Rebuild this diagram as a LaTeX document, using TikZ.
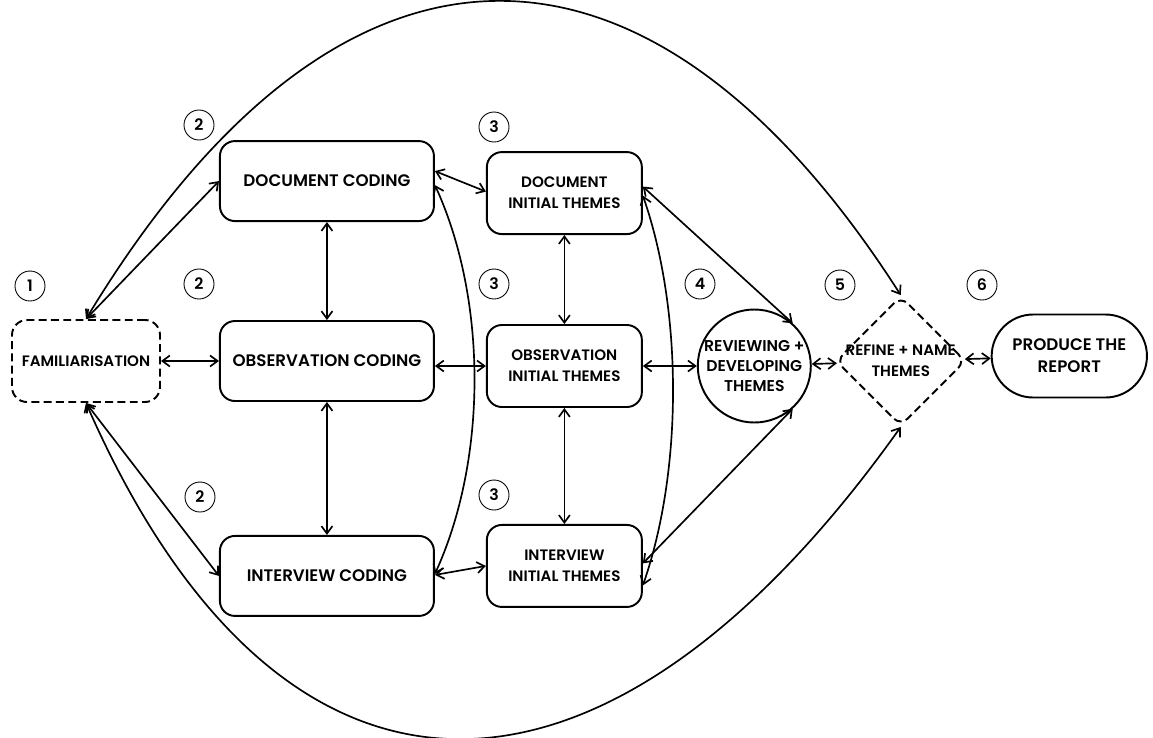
\documentclass[tikz,border=0pt]{standalone}
\usepackage{fontspec}
\setmainfont{Poppins}[BoldFont={Poppins SemiBold}]
\usepackage{tikz}
\usetikzlibrary{shapes,positioning,calc}
\usetikzlibrary{shapes.geometric}
\usetikzlibrary{arrows.meta}
\tikzstyle{link} = [line width=0.95pt,{Straight Barb[length=1.5mm,width=2.2mm]}-{Straight Barb[length=1.5mm,width=2.2mm]}]

\begin{document}
\begin{tikzpicture}[every node/.style={font=\fontsize{8.6}{12}\selectfont\bfseries, align=center},
	stage/.style={rectangle, draw, line width=1.1pt, rounded corners=3mm, minimum width=#1, minimum height=1.6cm},
	theme/.style={rectangle, draw, line width=1.1pt, rounded corners=3mm, minimum width=3.1cm, minimum height=1.64cm},
	num/.style={circle, draw, line width=0.5pt, minimum size=0.6cm, inner sep=0pt, font=\fontsize{9}{9}\selectfont\bfseries}]
	
	\useasboundingbox (0,0) rectangle (23.06,-14.74);
	
	% STAGES
	
	\node [stage=2.96cm, dashed, dash pattern=on 4.5pt off 2.5pt, minimum height=1.64cm] (fam) at (1.72,-7.22) {FAMILIARISATION};
	
	\node [stage=4.28cm, right=1.16cm of fam, font=\fontsize{9.5}{12}\selectfont\bfseries] (obscod) {OBSERVATION CODING};
	\node [stage=4.28cm, above=1.96cm of obscod, font=\fontsize{9.5}{12}\selectfont\bfseries] (doccod) {DOCUMENT CODING};
	\node [stage=4.28cm, below=2.66cm of obscod, font=\fontsize{9.5}{12}\selectfont\bfseries] (intcod) {INTERVIEW CODING};
	
	\node [theme, right=1.02cm of obscod, yshift=-0.1cm] (obsthm) {OBSERVATION\\ INITIAL THEMES};
	\node [theme, above=1.78cm of obsthm] (docthm) {DOCUMENT\\ INITIAL THEMES};
	\node [theme, below=2.32cm of obsthm] (intthm) {INTERVIEW\\ INITIAL THEMES};
	
	\node [circle, draw, line width=1.1pt, minimum size=2.26cm, inner sep=0pt, right=1.08cm of obsthm, font=\fontsize{8.9}{11.5}\selectfont\bfseries] (review) {REVIEWING +\\ DEVELOPING\\ THEMES};
	
	\node [diamond, draw, dashed, dash pattern=on 4.5pt off 2.5pt, line width=1.1pt, rounded corners=2mm, minimum width=2.6cm, minimum height=2.6cm, inner sep=0pt, right=0.46cm of review, yshift=0.1cm, label={[align=center]center:REFINE + NAME\\ THEMES}] (refine) {};
	
	\node [rounded rectangle, draw, line width=1.1pt, minimum width=3.34cm, minimum height=1.66cm, right=0.48cm of refine, yshift=0.1cm, font=\fontsize{9.5}{12.5}\selectfont\bfseries] (report) {PRODUCE THE\\ REPORT};
	
	% STEP NUMBERS
	
	\node [num] (n1) at (0.6,-5.72) {1};
	\node [num] (n2a) at (3.98,-2.5) {2};
	\node [num] (n2b) at (3.98,-5.68) {2};
	\node [num] (n2c) at (4.0,-9.94) {2};
	\node [num] (n3a) at (9.88,-2.54) {3};
	\node [num] (n3b) at (9.88,-5.68) {3};
	\node [num] (n3c) at (9.88,-9.9) {3};
	\node [num] (n4) at (14.0,-5.68) {4};
	\node [num] (n5) at (16.8,-5.7) {5};
	\node [num] (n6) at (19.64,-5.7) {6};
	
	% LINKS
	
	\draw [link] (fam) -- (obscod);
	\draw [link] (fam.north) -- (doccod.west);
	\draw [link] (fam.south) -- (intcod.west);
	\draw [link] (doccod) -- (obscod);
	\draw [link] (obscod) -- (intcod);
	
	\draw [link] ([yshift=0.2cm]doccod.east) -- ([yshift=0.03cm]docthm.west);
	\draw [link] (obsthm.west -| obscod.east) -- (obsthm.west);
	\draw [link] ([yshift=0.02cm]intcod.east) -- (intthm.west);
	\draw [link] ([yshift=-0.08cm]doccod.east) .. controls +(1.05,-2.3) and +(1.05,2.3) .. ([yshift=0.04cm]intcod.east);
	
	\draw [link] (docthm) -- (obsthm);
	\draw [link] (obsthm) -- (intthm);
	\draw [link] (obsthm) -- (review);
	\draw [link] ([yshift=0.13cm]docthm.east) -- (review.48);
	\draw [link] ([yshift=0.05cm]intthm.east) -- (review.-48);
	\draw [link] ([yshift=-0.05cm]docthm.east) .. controls +(0.8,-2.3) and +(0.8,2.3) .. ([yshift=-0.39cm]intthm.east);
	
	\draw [link] (review) -- (refine);
	\draw [link] (refine) -- (report);
	
	\draw [link] (fam.north) .. controls +(5.08,8.4) and +(-5.06,7.9) .. (refine.north);
	\draw [link] (fam.south) .. controls +(3.88,-8.86) and +(-5.98,-8.4) .. (refine.south);
	
\end{tikzpicture}
\end{document}
